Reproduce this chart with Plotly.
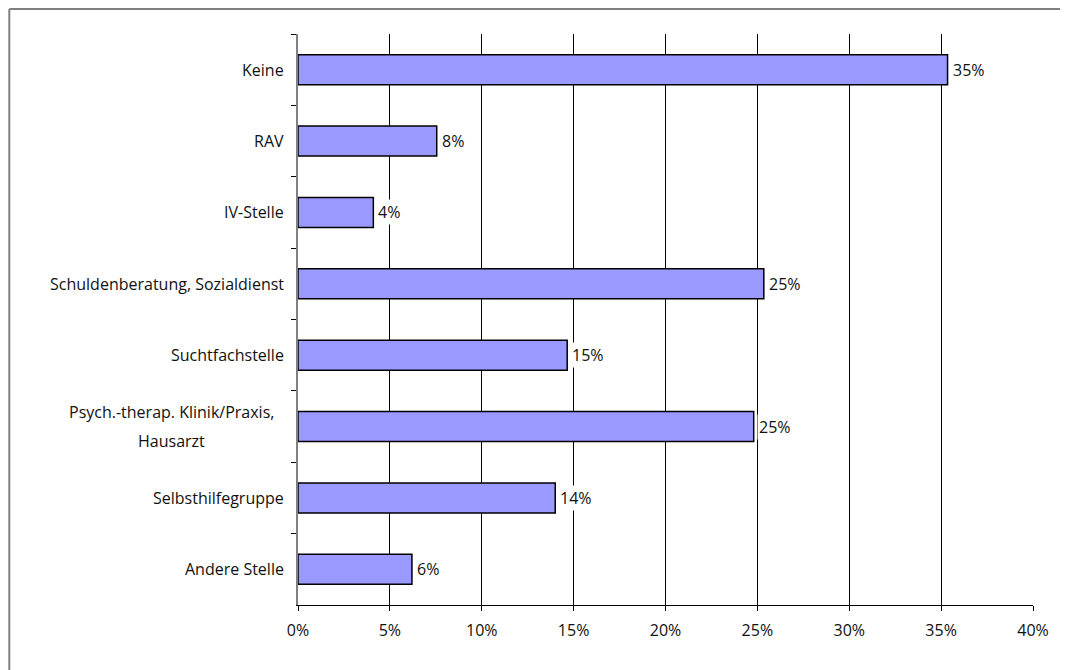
import plotly.graph_objects as go

categories = [
    "Keine",
    "RAV",
    "IV-Stelle",
    "Schuldenberatung, Sozialdienst",
    "Suchtfachstelle",
    "Psych.-therap. Klinik/Praxis,\nHausarzt",
    "Selbsthilfegruppe",
    "Andere Stelle",
]
values = [0.3535, 0.0755, 0.041, 0.2535, 0.1465, 0.248, 0.140, 0.062]
x_ticks = [0, 0.05, 0.10, 0.15, 0.20, 0.25, 0.30, 0.35, 0.40]
x_tick_labels = ["0%", "5%", "10%", "15%", "20%", "25%", "30%", "35%", "40%"]

FONT = "Open Sans"
FS = 16
TXT = "#111111"
ids = [c.replace("\n", " ") for c in categories]

W, H = 1100, 700
ML, MT = 290, 26
MR = W - 1025
MB = H - 597
PW, PH = W - ML - MR, H - MT - MB

fig = go.Figure()
fig.add_trace(go.Bar(
    x=values, y=ids, orientation="h",
    marker=dict(color="#9999FF", line=dict(color="black", width=1.5)),
    hoverinfo="skip",
))

annotations = []
# value labels with white background (interrupt gridlines)
for v, c in zip(values, ids):
    annotations.append(dict(
        x=v, y=c, xref="x", yref="y", text=f"{round(v * 100)}%",
        showarrow=False, xanchor="left", xshift=3, bgcolor="white",
        font=dict(family=FONT, size=FS, color=TXT), borderpad=1,
    ))
# category labels (multi-line labels centered)
LINE = 29
for cat, c in zip(categories, ids):
    lines = cat.split("\n")
    n = len(lines)
    for i, ln in enumerate(lines):
        annotations.append(dict(
            x=0, y=c, xref="paper", yref="y", text=ln, showarrow=False,
            xanchor="right" if n == 1 else "center",
            xshift=-12 if n == 1 else -127,
            yshift=((n - 1) / 2 - i) * LINE,
            font=dict(family=FONT, size=FS, color=TXT),
        ))

# outer chart frame (cropped at right/bottom like the reference)
fx0 = (1.3 - ML) / PW
fx1 = (W - ML) / PW
fy1 = 1 + (MT - 1) / PH
fy0 = -MB / PH
fig.update_layout(
    width=W, height=H,
    margin=dict(l=ML, r=MR, t=MT, b=MB),
    paper_bgcolor="white", plot_bgcolor="white",
    bargap=0.58, showlegend=False,
    annotations=annotations,
    font=dict(family=FONT, size=FS, color=TXT),
    shapes=[
        dict(type="line", xref="paper", yref="paper", x0=fx0, x1=fx0, y0=fy1, y1=fy0,
             line=dict(color="#7f7f7f", width=2)),
        dict(type="line", xref="paper", yref="paper", x0=fx0, x1=fx1, y0=fy1, y1=fy1,
             line=dict(color="#7f7f7f", width=2)),
    ],
)

fig.update_xaxes(
    range=[0, 0.4], tickvals=x_ticks, ticktext=x_tick_labels,
    showgrid=True, gridcolor="black", gridwidth=1,
    showline=True, linecolor="black", linewidth=1,
    ticks="outside", ticklen=5, tickcolor="black",
    zeroline=False, ticklabelstandoff=6,
)
fig.update_yaxes(
    categoryorder="array", categoryarray=ids, autorange="reversed",
    showticklabels=False, showgrid=False,
    showline=True, linecolor="#808080", linewidth=2,
    ticks="outside", ticklen=5, tickcolor="black", tickson="boundaries",
)

fig.write_html("out.html")
